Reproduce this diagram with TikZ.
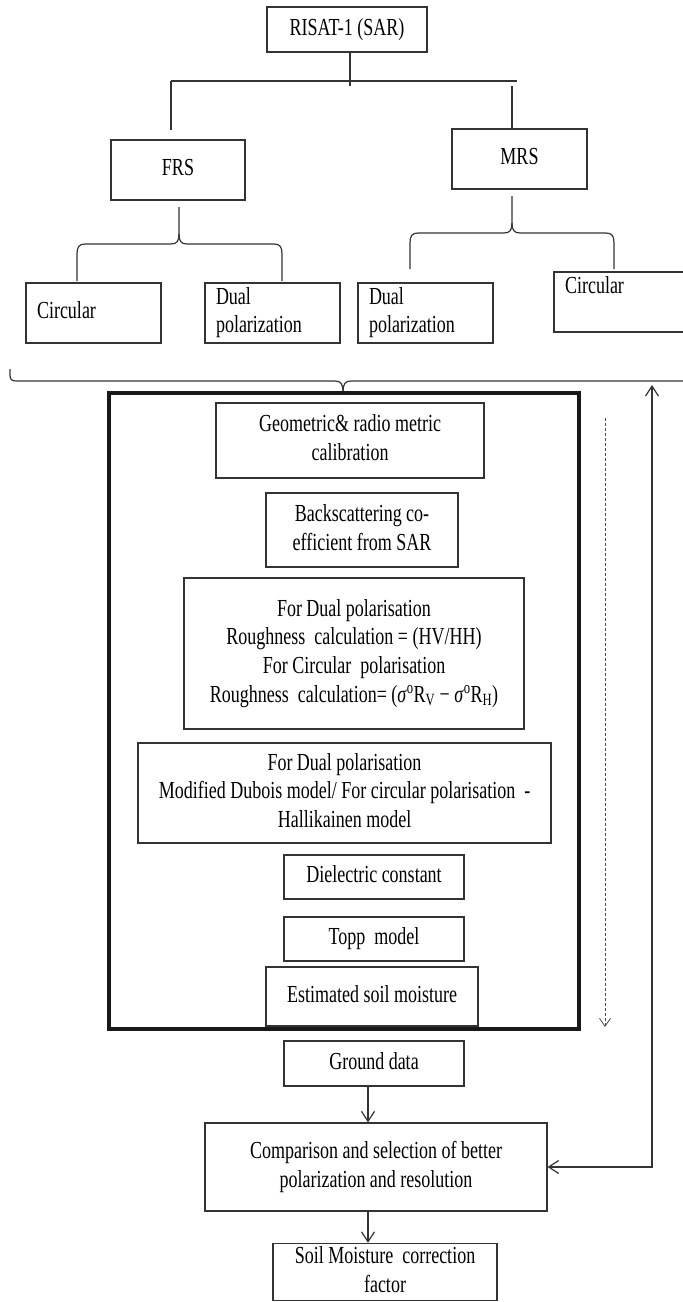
\documentclass[tikz,border=0pt]{standalone}
\usepackage{fontspec}
\setmainfont{Liberation Serif}
\usepackage{graphicx}
\usetikzlibrary{arrows.meta}
\newcommand\stc[1]{\scalebox{1}[1.36]{\begin{tabular}{@{}c@{}}#1\end{tabular}}}
\newcommand\stl[1]{\scalebox{1}[1.36]{\begin{tabular}{@{}l@{}}#1\end{tabular}}}
\begin{document}
\begin{tikzpicture}[x=1pt,y=-1pt,
  box/.style={draw=black!80, line width=1.2pt, inner sep=0pt, font=\fontsize{18}{21}\selectfont},
  lbox/.style={box, inner xsep=11pt, align=left},
  ln/.style={draw=black!80, line width=1.2pt},
  barb/.style={ln, -{Straight Barb[length=10pt,width=13pt]}},
  dbarb/.style={ln, {Straight Barb[length=10pt,width=13pt]}-{Straight Barb[length=10pt,width=13pt]}},
  dash arrow/.style={draw=black!70, line width=0.8pt, dash pattern=on 3pt off 2pt, -{Straight Barb[length=8pt,width=11pt]}}
]
\path[use as bounding box] (0,0) rectangle (683,1302);
\clip (0,0) rectangle (683,1302);

% top tree
\node[box, minimum width=160pt, minimum height=45pt] (risat) at (347,29.5) {\stc{RISAT-1 (SAR)}};
\node[box, minimum width=134pt, minimum height=60pt] (frs) at (178,170) {\stc{FRS}};
\node[box, minimum width=135pt, minimum height=60pt] (mrs) at (519.5,159) {\stc{MRS}};

\coordinate (hl) at (171,81);
\coordinate (hr) at (517,81);
\coordinate (ld) at (171,130);
\coordinate (rd) at (512,86);
\coordinate (rt) at (350,86);
\draw[ln] ([xshift=3pt]risat.south) -- (rt);
\draw[ln] (hl) -- (hr);
\draw[ln] (hl) -- (ld);
\draw[ln] (rd) -- (rd |- mrs.north);

% leaf boxes
\node[lbox, minimum width=135pt, minimum height=60pt, text width=113pt] (c1) at (93.5,313) {\stl{Circular}};
\node[lbox, minimum width=135pt, minimum height=60pt, text width=113pt] (d1) at (272.5,313) {\stl{Dual\\polarization}};
\node[lbox, minimum width=135pt, minimum height=60pt, text width=113pt] (d2) at (425.5,313) {\stl{Dual\\polarization}};
\node[lbox, minimum width=150pt, minimum height=60pt, text width=128pt] (c2) at (629,302) {\stl{Circular\\ \mbox{}}};

% FRS brace
\coordinate (fb) at (179,207);
\draw[ln] (fb) -- (179,234)
  .. controls (179,241) and (177,244) .. (171,244) -- (85,244)
  .. controls (79,244) and (77,247) .. (77,254) -- (77,281);
\draw[ln] (179,234) .. controls (179,241) and (181,244) .. (187,244) -- (274,244)
  .. controls (280,244) and (282,247) .. (282,254) -- (282,281);

% MRS brace
\coordinate (mb) at (512,196);
\draw[ln] (mb) -- (512,223)
  .. controls (512,230) and (510,233) .. (504,233) -- (418,233)
  .. controls (412,233) and (410,236) .. (410,243) -- (410,269);
\draw[ln] (512,223) .. controls (512,230) and (514,233) .. (520,233) -- (606,233)
  .. controls (612,233) and (614,236) .. (614,243) -- (614,269);

% big brace
\coordinate (bb) at (343,392);
\draw[ln] (10,369) -- (10,375) .. controls (10,380) and (12,381) .. (17,381) -- (335,381)
  .. controls (341,381) and (343,384) .. (bb);
\draw[ln] (bb) .. controls (343,384) and (345,381) .. (351,381) -- (700,381);

% thick frame
\node[draw=black!90, line width=3.5pt, minimum width=470pt, minimum height=636pt, inner sep=0pt] (frame) at (344,711) {};

\node[box, minimum width=268pt, minimum height=75pt] (geo) at (350,440.5) {\stc{Geometric\& radio metric\\calibration}};
\node[box, minimum width=192pt, minimum height=74pt] (back) at (362,530) {\stc{Backscattering co-\\efficient from SAR}};
\node[box, minimum width=340pt, minimum height=151pt] (rough) at (354,653.5) {\stc{For Dual polarisation\\Roughness\ \ calculation = (HV/HH)\\For Circular\ \ polarisation\\Roughness\ \ calculation= (\textit{σ}\textsuperscript{o}R\textsubscript{V} − \textit{σ}\textsuperscript{o}R\textsubscript{H})}};
\node[box, minimum width=413pt, minimum height=100pt] (dub) at (344.5,793) {\stc{For Dual polarisation\\Modified Dubois model/ For circular polarisation\ \ -\\Hallikainen model}};
\node[box, minimum width=180pt, minimum height=44pt] (diel) at (374,877) {\stc{Dielectric constant}};
\node[box, minimum width=180pt, minimum height=44pt] (topp) at (374,939) {\stc{Topp\ \ model}};
\node[box, minimum width=212pt, minimum height=59pt] (est) at (372,996.5) {\stc{Estimated soil moisture}};

% below
\node[box, minimum width=180pt, minimum height=45pt] (ground) at (374,1063.5) {\stc{Ground data}};
\node[box, minimum width=342pt, minimum height=88pt] (comp) at (376,1167) {\stc{Comparison and selection of better\\polarization and resolution}};
\node[box, minimum width=224pt, minimum height=56pt] (soil) at (385,1272) {\stc{Soil Moisture\ \ correction\\factor}};

\draw[barb] ([xshift=-6pt]ground.south) -- ([xshift=-6pt]ground.south |- comp.north);
\draw[barb] ([xshift=-8pt]comp.south) -- ([xshift=-8pt]comp.south |- soil.north);

% feedback arrow
\coordinate (fbtop) at (652,385);
\draw[dbarb] (comp.east) -| (fbtop);

% dashed arrow
\coordinate (da) at (605,418);
\coordinate (db) at (605,1027);
\draw[dash arrow] (da) -- (db);
\end{tikzpicture}
\end{document}
